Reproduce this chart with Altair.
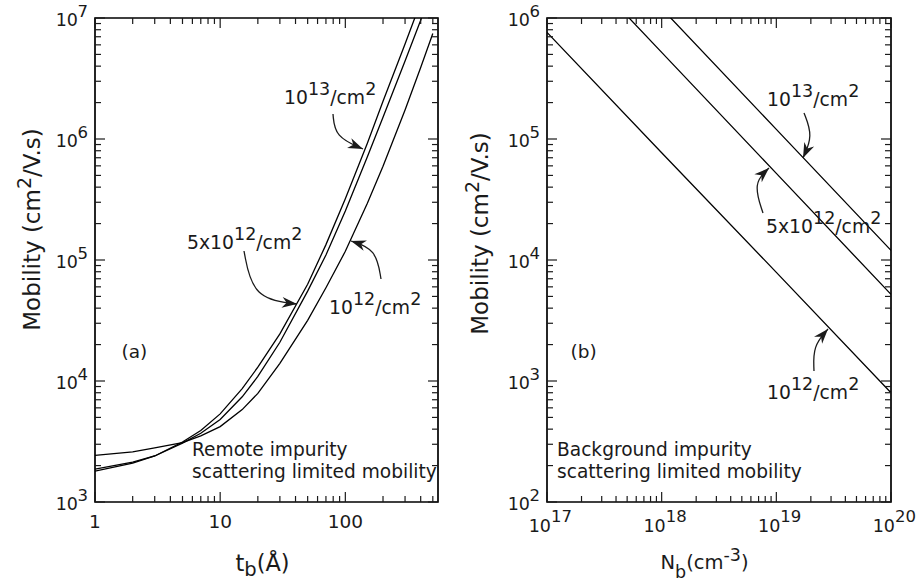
import math
import altair as alt
import pandas as pd

FONT = "DejaVu Sans"
INK = "#1a1a1a"

# ---------------- panel (a): remote impurity scattering limited mobility ----------------
t_b = [1, 2, 3, 5, 7, 10, 15, 20, 30, 50, 70, 100, 150, 200, 300, 400, 500]
mu_a_1e13 = [1800, 2100, 2400, 3130, 3900, 5350, 8650, 13000, 24500, 63000, 134000,
             321000, 923000, 2050000, 6100000, 13500000, 25000000]
mu_a_5e12 = [1870, 2140, 2400, 3070, 3700, 4800, 7400, 10900, 20900, 55300, 110000,
             254000, 714000, 1510000, 4420000, 9600000, 17800000]
mu_a_1e12 = [2430, 2600, 2800, 3100, 3520, 4200, 5800, 7900, 14000, 31700, 59000,
             118000, 294000, 596000, 1740000, 3900000, 7450000]

# ---------------- panel (b): background impurity scattering limited mobility ----------------
N_b = [1e17, 1e18, 1e19, 1e20]
mu_b_1e13 = [12000000, 1200000, 120000, 12000]
mu_b_5e12 = [5200000, 520000, 52000, 5200]
mu_b_1e12 = [760000, 77000, 7900, 800]

series = ["1e13", "5e12", "1e12"]

# ---------------- ticks / tick labels ----------------
a_x_major = [1, 10, 100]
a_x_labels = ["1", "10", "100"]
a_x_minor = [2, 3, 4, 5, 6, 7, 8, 9, 20, 30, 40, 50, 60, 70, 80, 90, 200, 300, 400, 500]
a_y_major = [1e3, 1e4, 1e5, 1e6, 1e7]
a_y_exp = ["3", "4", "5", "6", "7"]
a_y_minor = [m * 10 ** k for k in range(3, 7) for m in range(2, 10)]

b_x_major = [1e17, 1e18, 1e19, 1e20]
b_x_exp = ["17", "18", "19", "20"]
b_x_minor = [m * 10 ** k for k in range(17, 20) for m in range(2, 10)]
b_y_major = [1e2, 1e3, 1e4, 1e5, 1e6]
b_y_exp = ["2", "3", "4", "5", "6"]
b_y_minor = [m * 10 ** k for k in range(2, 6) for m in range(2, 10)]

W_A, W_B, H = 343, 344, 484
GAP = 109

xs_a = alt.Scale(type="log", domain=[1, 550], nice=False)
ys_a = alt.Scale(type="log", domain=[1e3, 1e7], nice=False)
xs_b = alt.Scale(type="log", domain=[1e17, 1e20], nice=False)
ys_b = alt.Scale(type="log", domain=[1e2, 1e6], nice=False)

# DejaVu Sans advance widths (units of 1/2048 em) for laying out rich text pieces
ADV = {" ": 651, "(": 799, ")": 799, "-": 739, ".": 651, "/": 690, "x": 1212,
       "a": 1255, "b": 1300, "c": 1126, "d": 1300, "e": 1260, "g": 1300, "i": 569,
       "l": 569, "m": 1995, "n": 1298, "o": 1253, "p": 1300, "r": 842, "s": 1067,
       "t": 803, "u": 1298, "y": 1212, "k": 1186, "M": 1767, "N": 1532, "V": 1401,
       "\u00c5": 1401, "R": 1423, "B": 1405}
for d in "0123456789":
    ADV[d] = 1303


def tw(s, size):
    return sum(ADV.get(ch, 1250) for ch in s) / 2048.0 * size


def rich(segs, x, y, base, sup, rise=9, drop=5, rotate=False, center=False):
    sizes = [base if k == "n" else sup for _, k in segs]
    widths = [tw(s, fs) for (s, _), fs in zip(segs, sizes)]
    pos = -sum(widths) / 2.0 if center else 0.0
    rows = []
    for (s, k), fs, w in zip(segs, sizes, widths):
        off = 0 if k == "n" else (-rise if k == "sup" else drop)
        if rotate:
            rows.append({"px": x + off, "py": y - pos, "txt": s, "fs": fs, "ang": 270})
        else:
            rows.append({"px": x + pos, "py": y + off, "txt": s, "fs": fs, "ang": 0})
        pos += w
    return rows


def conc(label_exp):
    return [("10", "n"), (label_exp, "sup"), ("/cm", "n"), ("2", "sup")]


def conc5(label_exp):
    return [("5x10", "n"), (label_exp, "sup"), ("/cm", "n"), ("2", "sup")]


YTITLE = [("Mobility (cm", "n"), ("2", "sup"), ("/V.s)", "n")]
AB, AS = 18.8, 17.5   # annotation base / superscript sizes
RB = 18.6             # regime text size

texts_a = []
texts_a += rich(conc("13"), 189, 86, AB, AS)
texts_a += rich(conc5("12"), 92, 231, AB, AS)
texts_a += rich(conc("12"), 234, 296, AB, AS)
texts_a += rich([("(a)", "n")], 26.5, 340, 18.5, 18.5)
texts_a += rich([("Remote impurity", "n")], 97, 438, RB, RB)
texts_a += rich([("scattering limited mobility", "n")], 97, 460, RB, RB)
texts_a += rich([("t", "n"), ("b", "sub"), ("(\u00c5)", "n")], 167.5, 553, 22.5, 19.5,
                drop=5, center=True)
texts_a += rich(YTITLE, -55.5, 210, 23, 19, rise=9, rotate=True, center=True)

texts_b = []
texts_b += rich(conc("13"), 220, 88, AB, AS)
texts_b += rich(conc5("12"), 219, 215, AB, AS)
texts_b += rich(conc("12"), 220, 381, AB, AS)
texts_b += rich([("(b)", "n")], 23.5, 340, 18.5, 18.5)
texts_b += rich([("Background impurity", "n")], 10, 438, RB, RB)
texts_b += rich([("scattering limited mobility", "n")], 10, 460, RB, RB)
texts_b += rich([("N", "n"), ("b", "sub"), ("(cm", "n"), ("-3", "sup"), (")", "n")],
                157.5, 551, 19.5, 17.5, rise=8, drop=9, center=True)
texts_b += rich(YTITLE, -59, 214, 23, 19, rise=9, rotate=True, center=True)

# annotation arrows: three guide points each (start, bend, tip), panel pixel space
arrows_a = [[(238, 96), (240, 119), (268, 131)],
            [(149, 233), (158, 281), (202, 286)],
            [(286, 261), (281, 231), (256, 223)]]
arrows_b = [[(257, 95), (266, 118), (256, 140)],
            [(216, 195), (206, 165), (222, 150)],
            [(267, 353), (266, 328), (281, 311)]]

HEAD = "M0,0L-1,-0.36L-0.7,0L-1,0.36Z"
HEAD_LEN = 15


def curves_layer(xs, ys, xv, ylists, xname):
    rows = []
    for name, ys_ in zip(series, ylists):
        for xx, yy in zip(xv, ys_):
            rows.append({xname: xx, "mu": yy, "ns": name})
    return alt.Chart(pd.DataFrame(rows)).mark_line(
        clip=True, color="black", strokeWidth=1.3
    ).encode(
        x=alt.X(f"{xname}:Q", scale=xs, axis=None),
        y=alt.Y("mu:Q", scale=ys, axis=None),
        detail="ns:N",
    )


def tick_layers(xs, ys, W, xmaj, xmin, ymaj, ymin):
    layers = []
    for vals, ln in ((xmaj, 10), (xmin, 6)):
        base = alt.Chart(pd.DataFrame({"v": vals})).mark_rule(color=INK, strokeWidth=1.2)
        ex = alt.X("v:Q", scale=xs, axis=None)
        layers.append(base.encode(x=ex, y=alt.value(H), y2=alt.value(H - ln)))
        layers.append(base.encode(x=ex, y=alt.value(0), y2=alt.value(ln)))
    for vals, ln in ((ymaj, 10), (ymin, 6)):
        base = alt.Chart(pd.DataFrame({"v": vals})).mark_rule(color=INK, strokeWidth=1.2)
        ey = alt.Y("v:Q", scale=ys, axis=None)
        layers.append(base.encode(y=ey, x=alt.value(0), x2=alt.value(ln)))
        layers.append(base.encode(y=ey, x=alt.value(W - ln), x2=alt.value(W)))
    return layers


def ylabel_layers(ys, vals, exps):
    df = pd.DataFrame({"v": vals, "e": exps})
    ey = alt.Y("v:Q", scale=ys, axis=None)
    ten = alt.Chart(df).mark_text(text="10", align="right", baseline="alphabetic", dy=8,
                                  fontSize=17.5, font=FONT, color=INK).encode(
        y=ey, x=alt.value(-17))
    ex = alt.Chart(df).mark_text(align="right", baseline="alphabetic", dy=-1,
                                 fontSize=16.5, font=FONT, color=INK).encode(
        y=ey, x=alt.value(-7), text="e:N")
    return [ten, ex]


def pixel_layers(texts, arrows):
    tdf = pd.DataFrame(texts)
    t_layer = alt.Chart(tdf).mark_text(align="left", baseline="alphabetic", font=FONT,
                                       color=INK).encode(
        x=alt.X("px:Q", scale=None, axis=None),
        y=alt.Y("py:Q", scale=None, axis=None),
        text="txt:N",
        size=alt.Size("fs:Q", scale=None, legend=None),
        angle=alt.Angle("ang:Q", scale=None, legend=None),
    )
    arows, heads = [], []
    for k, pts in enumerate(arrows):
        for i, (px, py) in enumerate(pts):
            arows.append({"id": k, "i": i, "px": px, "py": py})
        (x1, y1), (x2, y2) = pts[-2], pts[-1]
        ang = math.degrees(math.atan2(y2 - y1, x2 - x1)) % 360
        heads.append({"px": x2, "py": y2, "ang": ang})
    a_layer = alt.Chart(pd.DataFrame(arows)).mark_line(
        interpolate="basis", color=INK, strokeWidth=1.3
    ).encode(
        x=alt.X("px:Q", scale=None, axis=None),
        y=alt.Y("py:Q", scale=None, axis=None),
        detail="id:N",
        order="i:Q",
    )
    h_layer = alt.Chart(pd.DataFrame(heads)).mark_point(
        shape=HEAD, filled=True, size=4 * HEAD_LEN * HEAD_LEN, color=INK, opacity=1,
        strokeWidth=0
    ).encode(
        x=alt.X("px:Q", scale=None, axis=None),
        y=alt.Y("py:Q", scale=None, axis=None),
        angle=alt.Angle("ang:Q", scale=None, legend=None),
    )
    return [t_layer, a_layer, h_layer]


# ---- panel (a) ----
xl_a = alt.Chart(pd.DataFrame({"v": a_x_major, "lab": a_x_labels})).mark_text(
    align="center", baseline="alphabetic", fontSize=18.5, font=FONT, color=INK
).encode(x=alt.X("v:Q", scale=xs_a, axis=None), y=alt.value(H + 26), text="lab:N")

pin = alt.Chart(pd.DataFrame({"k": [0]})).mark_rule(opacity=0).encode(
    x=alt.value(-94), x2=alt.value(-90), y=alt.value(-17))

panel_a = alt.layer(
    pin,
    curves_layer(xs_a, ys_a, t_b, [mu_a_1e13, mu_a_5e12, mu_a_1e12], "t"),
    *tick_layers(xs_a, ys_a, W_A, a_x_major, a_x_minor, a_y_major, a_y_minor),
    *ylabel_layers(ys_a, a_y_major, a_y_exp),
    xl_a,
    *pixel_layers(texts_a, arrows_a),
).properties(width=W_A, height=H)

# ---- panel (b) ----
bx_df = pd.DataFrame({"v": b_x_major, "e": b_x_exp})
bx_ten = alt.Chart(bx_df).mark_text(text="10", align="right", baseline="alphabetic", dx=4,
                                    fontSize=17.5, font=FONT, color=INK).encode(
    x=alt.X("v:Q", scale=xs_b, axis=None), y=alt.value(H + 30))
bx_exp = alt.Chart(bx_df).mark_text(align="left", baseline="alphabetic", dx=4,
                                    fontSize=16.5, font=FONT, color=INK).encode(
    x=alt.X("v:Q", scale=xs_b, axis=None), y=alt.value(H + 20), text="e:N")

panel_b = alt.layer(
    curves_layer(xs_b, ys_b, N_b, [mu_b_1e13, mu_b_5e12, mu_b_1e12], "N"),
    *tick_layers(xs_b, ys_b, W_B, b_x_major, b_x_minor, b_y_major, b_y_minor),
    *ylabel_layers(ys_b, b_y_major, b_y_exp),
    bx_ten,
    bx_exp,
    *pixel_layers(texts_b, arrows_b),
).properties(width=W_B, height=H)

chart = alt.hconcat(panel_a, panel_b, spacing=GAP, bounds="flush").properties(
    padding=0
).configure_view(stroke="black", strokeWidth=1.7)

chart.save("out.html", embed_options={"renderer": "svg", "actions": False})
